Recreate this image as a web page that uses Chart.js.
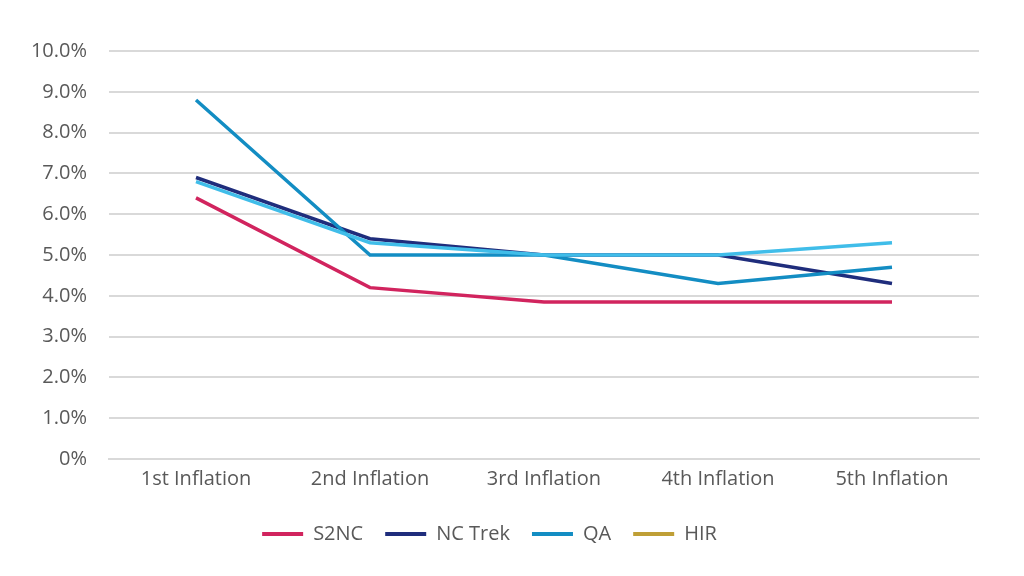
<!DOCTYPE html>
<html>
<head>
<meta charset="utf-8">
<script src="https://cdn.jsdelivr.net/npm/chart.js@4/dist/chart.umd.min.js"></script>
<style>
  html, body { margin: 0; padding: 0; background: #fff; }
  #wrap { width: 1024px; height: 576px; }
</style>
</head>
<body>
<div id="wrap"><canvas id="inflationChart"></canvas></div>
<script>
// data
const categories = ['1st Inflation', '2nd Inflation', '3rd Inflation', '4th Inflation', '5th Inflation'];
const s2nc   = [6.4, 4.2, 3.85, 3.85, 3.85];
const ncTrek = [6.9, 5.4, 5.0, 5.0, 4.3];
const qa     = [8.8, 5.0, 5.0, 4.3, 4.7];
const hir    = [null, null, null, null, null];
const extra  = [6.8, 5.3, 5.0, 5.0, 5.3]; // light blue line, not in legend
const yTicks = [0, 1, 2, 3, 4, 5, 6, 7, 8, 9, 10];

const FONT = 'Open Sans';
const TEXT = '#595959';

// order: lower number is drawn on top
const mk = (label, data, color, order) => ({
    label: label,
    data: data,
    borderColor: color,
    backgroundColor: color,
    borderWidth: 3.5,
    pointRadius: 0,
    tension: 0,
    fill: false,
    order: order
});

const ctx = document.getElementById('inflationChart').getContext('2d');
new Chart(ctx, {
    type: 'line',
    data: {
        labels: categories,
        datasets: [
            mk('S2NC', s2nc, '#d1245e', 3),
            mk('NC Trek', ncTrek, '#1f2d7c', 2),
            mk('QA', qa, '#138dc3', 1),
            mk('HIR', hir, '#bf9f36', 4),
            mk('', extra, '#40bde9', 0)
        ]
    },
    options: {
        responsive: true,
        maintainAspectRatio: false,
        animation: false,
        layout: { padding: { top: 51, right: 45, left: 0, bottom: 22 } },
        plugins: {
            tooltip: { enabled: false },
            legend: {
                position: 'bottom',
                labels: {
                    color: TEXT,
                    font: { family: FONT, size: 20 },
                    boxWidth: 41,
                    boxHeight: 4,
                    padding: 22,
                    sort: (a, b) => a.datasetIndex - b.datasetIndex,
                    generateLabels: (chart) => {
                        const items = Chart.defaults.plugins.legend.labels.generateLabels(chart);
                        return items.filter(i => i.text !== '').map(i => { i.lineWidth = 0; return i; });
                    }
                }
            }
        },
        scales: {
            x: {
                grid: { display: false },
                border: { color: '#d9d9d9', width: 2 },
                ticks: { color: TEXT, font: { family: FONT, size: 20 }, padding: 0 },
                afterFit: (axis) => { axis.height = 43; },
                offset: true
            },
            y: {
                min: 0,
                max: 10,
                afterBuildTicks: (axis) => { axis.ticks = yTicks.map(v => ({ value: v })); },
                afterFit: (axis) => { axis.width = 109; },
                grid: { color: '#d9d9d9', lineWidth: 2, drawTicks: false },
                border: { display: false },
                ticks: {
                    color: TEXT,
                    font: { family: FONT, size: 20 },
                    padding: 22,
                    callback: (v) => v === 0 ? '0%' : v.toFixed(1) + '%'
                }
            }
        }
    }
});
</script>
</body>
</html>
